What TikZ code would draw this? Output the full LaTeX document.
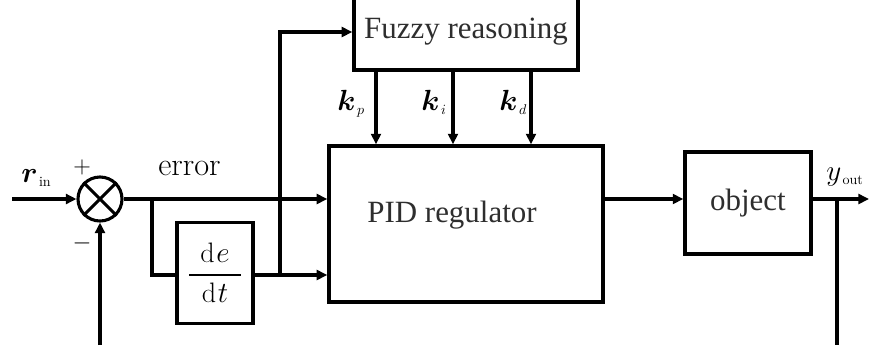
\documentclass[tikz,border=0pt]{standalone}
\usepackage{amsmath}
\usepackage{bm}
\usepackage{fontspec}
\newfontfamily\boxfont{Liberation Serif}
\usetikzlibrary{arrows.meta}
\begin{document}
\begin{tikzpicture}[x=0.025cm,y=-0.025cm,
  ln/.style={line width=2.2pt},
  arr/.style={ln,-{Triangle[length=7.5pt,width=7pt]}},
  blk/.style={draw,line width=2.4pt,inner sep=0pt},
  btxt/.style={font=\boxfont\fontsize{22}{26}\selectfont,text=black!82},
  mth/.style={font=\fontsize{20}{24}\selectfont,inner sep=0pt},
  sgn/.style={font=\fontsize{18}{20}\selectfont,inner sep=0pt}]
\useasboundingbox (0,0) rectangle (870,345);
% blocks
\node[blk,minimum width=5.6cm,minimum height=1.9cm,btxt] (fuzzy) at (466,32) {Fuzzy reasoning};
\node[blk,minimum width=6.85cm,minimum height=3.9cm] (pid) at (466,224) {};
\node[btxt,anchor=base] (pidtxt) at (452,222) {PID regulator};
\node[blk,minimum width=3.15cm,minimum height=2.55cm,btxt] (obj) at (748,203) {object};
\node[blk,minimum width=1.9cm,minimum height=2.525cm,font=\fontsize{20}{24}\selectfont] (dedt) at (215,273) {$\genfrac{}{}{1.4pt}{0}{\hspace{8pt}\mathrm{d}\mkern1mu e\hspace{8pt}}{\mathrm{d}\mkern1mu t}$};
\node[draw,circle,line width=2.2pt,minimum size=1.1cm,inner sep=0pt] (sum) at (100,199) {};
\draw[ln] (sum.north west) -- (sum.south east) (sum.north east) -- (sum.south west);
% coordinates
\coordinate (rin) at (12,199);
\coordinate (fb) at (100,345);
\coordinate (b1) at (152,199);
\coordinate (j2) at (280,275);
\coordinate (yb) at (837,199);
\coordinate (yend) at (869,199);
\coordinate (fbr) at (837,345);
\coordinate (kp) at (376,0);
\coordinate (ki) at (453,0);
\coordinate (kd) at (531,0);
\coordinate (my) at (0,199);
\coordinate (dy) at (0,275);
% connectors
\draw[arr] (rin) -- (sum.west);
\draw[arr] (fb) -- (sum.south);
\draw[arr] (sum.east) -- (sum.east -| pid.west);
\draw[ln] (b1) |- (dedt.west |- dy);
\draw[arr] (dedt.east |- dy) -- (pid.west |- dy);
\draw[arr] (j2) |- (fuzzy.west);
\draw[arr] (kp |- fuzzy.south) -- (kp |- pid.north);
\draw[arr] (ki |- fuzzy.south) -- (ki |- pid.north);
\draw[arr] (kd |- fuzzy.south) -- (kd |- pid.north);
\draw[arr] (pid.east |- my) -- (obj.west |- my);
\draw[arr] (obj.east |- my) -- (yend);
\draw[ln] (yb) -- (fbr);
% labels
\node[mth,anchor=base west] (rinl) at (21,182) {$\bm{r}_{\scriptscriptstyle\mathrm{\,in}}$};
\node[sgn] (plus) at (82,167) {$+$};
\node[sgn] (minus) at (82,243) {$-$};
\node[font=\fontsize{23}{26}\selectfont,anchor=base,inner sep=0pt] (err) at (189.5,175) {error};
\node[mth,anchor=base west] (kpl) at (337,110) {$\bm{k}_{\scriptscriptstyle\,p}$};
\node[mth,anchor=base west] (kil) at (421,110) {$\bm{k}_{\scriptscriptstyle\,i}$};
\node[mth,anchor=base west] (kdl) at (499,110) {$\bm{k}_{\scriptscriptstyle\,d}$};
\node[mth,anchor=base west] (yl) at (826,180) {$y_{\scriptscriptstyle\mathrm{\,out}}$};
\end{tikzpicture}
\end{document}
